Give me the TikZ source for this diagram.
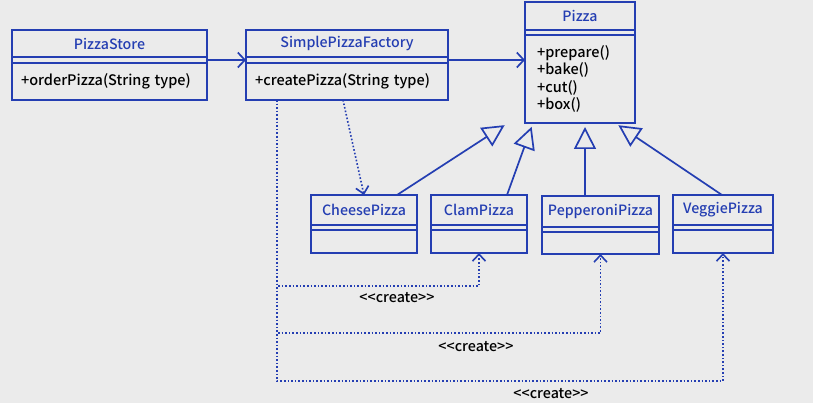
\documentclass[tikz,border=0pt]{standalone}
\usepackage{fontspec}
\setmainfont{Noto Sans CJK KR Medium}
\usetikzlibrary{positioning, arrows.meta}
\definecolor{umlblue}{RGB}{36,62,178}
\definecolor{canvas}{RGB}{235,235,235}
\tikzset{
  clsbox/.style  = {draw=umlblue, line width=1.7pt, inner sep=0pt, outer sep=0pt},
  clsname/.style = {clsbox, text=umlblue, font=\fontsize{14.2}{17}\selectfont},
  clsattr/.style = {clsbox},
  clsops/.style  = {clsbox, align=left, font=\fontsize{14.5}{17.5}\selectfont},
  assoc/.style   = {-{Straight Barb[length=7pt, width=15pt]}, draw=umlblue, line width=1.7pt},
  inherit/.style = {-{Triangle[open, length=22pt, width=22pt, fill=canvas]}, draw=umlblue, line width=1.7pt, shorten >=4pt},
  dep/.style     = {-{Straight Barb[length=7pt, width=13pt]}, draw=umlblue, line width=1.6pt, dotted}
}

\begin{document}
\begin{tikzpicture}[x=1pt, y=-1pt, node distance=0pt]
  \fill[canvas] (0,0) rectangle (813,403);

  % top row
  \node[clsname, minimum width=195, minimum height=27] (storeT) at (109.5,43.5) {PizzaStore};
  \node[clsattr, minimum width=195, minimum height=6, below=of storeT] (storeA) {};
  \node[clsops, minimum width=195, minimum height=37, text width=177, below=of storeA] (storeM) {+orderPizza(String type)};

  \node[clsname, minimum width=202, minimum height=27] (factoryT) at (347,43.5) {SimplePizzaFactory};
  \node[clsattr, minimum width=202, minimum height=6, below=of factoryT] (factoryA) {};
  \node[clsops, minimum width=202, minimum height=37, text width=184, below=of factoryA] (factoryM) {+createPizza(String type)};

  \node[clsname, minimum width=110, minimum height=28] (pizzaT) at (580,16) {Pizza};
  \node[clsattr, minimum width=110, minimum height=5, below=of pizzaT] (pizzaA) {};
  \node[clsops, minimum width=110, minimum height=88, text width=86, below=of pizzaA] (pizzaM) {+prepare()\\+bake()\\+cut()\\+box()};

  % concrete pizzas
  \node[clsname, minimum width=106, minimum height=30] (cheeseT) at (364,210) {CheesePizza};
  \node[clsattr, minimum width=106, minimum height=5, below=of cheeseT] (cheeseA) {};
  \node[clsops, minimum width=106, minimum height=23, below=of cheeseA] (cheeseM) {};

  \node[clsname, minimum width=96, minimum height=30] (clamT) at (479,210) {ClamPizza};
  \node[clsattr, minimum width=96, minimum height=5, below=of clamT] (clamA) {};
  \node[clsops, minimum width=96, minimum height=23, below=of clamA] (clamM) {};

  \node[clsname, minimum width=117, minimum height=31] (pepT) at (600.5,211.5) {PepperoniPizza};
  \node[clsattr, minimum width=117, minimum height=5, below=of pepT] (pepA) {};
  \node[clsops, minimum width=117, minimum height=22, below=of pepA] (pepM) {};

  \node[clsname, minimum width=100, minimum height=30] (veggieT) at (723,210) {VeggiePizza};
  \node[clsattr, minimum width=100, minimum height=5, below=of veggieT] (veggieA) {};
  \node[clsops, minimum width=100, minimum height=23, below=of veggieA] (veggieM) {};

  % labels
  \node[font=\fontsize{14.3}{16}\selectfont] (create1) at (397,298) {<\kern0pt<create>\kern0pt>};
  \node[font=\fontsize{14.3}{16}\selectfont] (create2) at (476,347) {<\kern0pt<create>\kern0pt>};
  \node[font=\fontsize{14.3}{16}\selectfont] (create3) at (551,394) {<\kern0pt<create>\kern0pt>};

  \draw[assoc] (storeA) -- (factoryA);
  \draw[assoc] (factoryA.east) -- (factoryA.east -| pizzaM.west);

  \draw[inherit] ([xshift=33]cheeseT.north) -- ([xshift=-72]pizzaM.south);
  \draw[inherit] ([xshift=28]clamT.north) -- ([xshift=-47]pizzaM.south);
  \draw[inherit] ([xshift=-15.5]pepT.north) -- ([xshift=5]pizzaM.south);
  \draw[inherit] ([xshift=-1]veggieT.north) -- ([xshift=35]pizzaM.south);

  \draw[dep] ([xshift=-4]factoryM.south) -- (cheeseT.north);
  \draw[dep] ([xshift=-70]factoryM.south) |- ([yshift=-33]clamM.south) -- (clamM.south);
  \draw[dep] ([xshift=-70]factoryM.south) |- ([yshift=-79]pepM.south) -- (pepM.south);
  \draw[dep] ([xshift=-70]factoryM.south) |- ([yshift=-128]veggieM.south) -- (veggieM.south);
\end{tikzpicture}
\end{document}
